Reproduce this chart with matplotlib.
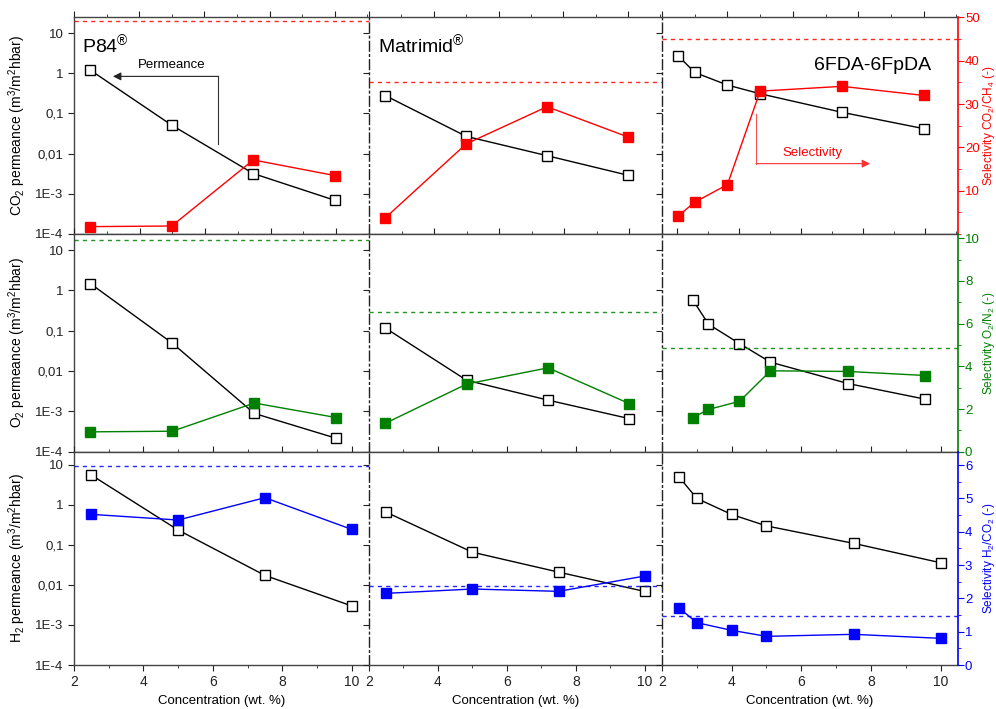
import numpy as np
import matplotlib.pyplot as plt
from matplotlib.ticker import MultipleLocator, FixedLocator, NullLocator

plt.rcParams['font.family'] = ['Liberation Sans', 'DejaVu Sans']
plt.rcParams['mathtext.fontset'] = 'custom'
plt.rcParams['mathtext.rm'] = 'Liberation Sans'
plt.rcParams['mathtext.it'] = 'Liberation Sans:italic'
plt.rcParams['mathtext.bf'] = 'Liberation Sans:bold'

# concentrations (wt. %)
conc_p84 = [2.5, 5, 7.5, 10]
conc_mat = [2.5, 5, 7.5, 10]
conc_6f = [2.5, 3, 4, 5, 7.5, 10]

# CO2 permeance and CO2/CH4 selectivity
co2_p84 = [1.2, 0.051, 0.0032, 0.00069]
co2_mat = [0.28, 0.027, 0.0089, 0.0029]
co2_6f = [2.7, 1.05, 0.51, 0.31, 0.107, 0.042]
sel_co2ch4_p84 = [1.7, 1.85, 17.1, 13.5]
sel_co2ch4_mat = [3.7, 20.8, 29.4, 22.4]
sel_co2ch4_6f = [4.2, 7.35, 11.4, 33.0, 34.1, 32.0]
ref_co2ch4 = [49.1, 35.0, 45.1]

# O2 permeance and O2/N2 selectivity
o2_p84 = [1.47, 0.049, 0.00089, 0.000215]
o2_mat = [0.117, 0.0059, 0.0019, 0.00066]
o2_6f = [0.57, 0.145, 0.048, 0.0166, 0.0049, 0.0020]
sel_o2n2_p84 = [0.93, 0.96, 2.28, 1.6]
sel_o2n2_mat = [1.33, 3.17, 3.93, 2.25]
sel_o2n2_6f = [1.6, 1.98, 2.36, 3.79, 3.76, 3.57]
ref_o2n2 = [9.92, 6.54, 4.84]

# H2 permeance and H2/CO2 selectivity
h2_p84 = [5.6, 0.237, 0.0174, 0.0030]
h2_mat = [0.66, 0.066, 0.021, 0.0069]
h2_6f = [4.9, 1.46, 0.58, 0.30, 0.11, 0.036]
sel_h2co2_p84 = [4.52, 4.35, 5.02, 4.07]
sel_h2co2_mat = [2.15, 2.28, 2.21, 2.67]
sel_h2co2_6f = [1.70, 1.27, 1.04, 0.86, 0.92, 0.80]
ref_h2co2 = [5.97, 2.37, 1.48]

membranes = ['P84$^{®}$', 'Matrimid$^{®}$', '6FDA-6FpDA']
perm_labels = ['CO$_2$ permeance (m$^3$/m$^2$hbar)',
               'O$_2$ permeance (m$^3$/m$^2$hbar)',
               'H$_2$ permeance (m$^3$/m$^2$hbar)']
sel_labels = ['Selectivity CO$_2$/CH$_4$ (-)',
              'Selectivity O$_2$/N$_2$ (-)',
              'Selectivity H$_2$/CO$_2$ (-)']
sel_colors = ['#ff0000', '#008000', '#0000ff']

concs = [conc_p84, conc_mat, conc_6f]
perms = [[co2_p84, co2_mat, co2_6f],
         [o2_p84, o2_mat, o2_6f],
         [h2_p84, h2_mat, h2_6f]]
sels = [[sel_co2ch4_p84, sel_co2ch4_mat, sel_co2ch4_6f],
        [sel_o2n2_p84, sel_o2n2_mat, sel_o2n2_6f],
        [sel_h2co2_p84, sel_h2co2_mat, sel_h2co2_6f]]
refs = [ref_co2ch4, ref_o2n2, ref_h2co2]

# layout in pixels (996 x 709)
W, H = 996, 709
col_x = [(74, 369), (369, 662), (662, 958)]
row_y = [(17.5, 234), (234, 451.7), (451.7, 665)]
xlims = [[(2, 11.05), (2, 11.05), (2, 11.05)],
         [(2, 11.0), (2, 11.0), (1.5, 11.05)],
         [(2, 10.5), (2, 10.5), (2, 10.5)]]
perm_top = [24.5, 25, 21.5]
sel_top = [50, 10.2, 6.4]
sel_ticks = [[10, 20, 30, 40, 50], [0, 2, 4, 6, 8, 10], [0, 1, 2, 3, 4, 5, 6]]
sel_minor = [5, 1, 0.5]

spine_c = '#444444'
fig = plt.figure(figsize=(W / 100, H / 100), dpi=100)

axes = {}
for r in range(3):
    for c in range(3):
        x0, x1 = col_x[c]
        y0, y1 = row_y[r]
        ax = fig.add_axes([x0 / W, 1 - y1 / H, (x1 - x0) / W, (y1 - y0) / H])
        ax.set_yscale('log')
        ax.set_xlim(*xlims[r][c])
        ax.set_ylim(1e-4, perm_top[r])
        for s in ax.spines.values():
            s.set_color(spine_c)
            s.set_linewidth(1)
        ax.spines['right'].set_visible(False)
        if c > 0:
            ax.spines['left'].set_linestyle((0, (7, 2.5, 1.2, 2.5)))
            ax.spines['left'].set_color('#222222')
        ax.yaxis.set_major_locator(FixedLocator([1e-4, 1e-3, 1e-2, 1e-1, 1, 10]))
        ax.set_yticklabels(['1E-4', '1E-3', '0,01', '0,1', '1', '10'])
        ax.yaxis.set_minor_locator(NullLocator())
        ax.tick_params(axis='y', direction='out', left=(c == 0), labelleft=(c == 0),
                       length=4, labelsize=9.5, colors='#222222')
        ax.xaxis.set_major_locator(MultipleLocator(2))
        ax.xaxis.set_minor_locator(MultipleLocator(1))
        ax.tick_params(axis='x', which='both', direction='out', top=True,
                       bottom=(r == 2), labelbottom=(r == 2), labelsize=10,
                       colors='#222222')
        ax.tick_params(axis='x', which='major', length=4)
        ax.tick_params(axis='x', which='minor', length=2.5)

        ax.plot(concs[c], perms[r][c], '-', color='k', lw=1, marker='s', ms=7,
                mfc='white', mec='k', mew=1, zorder=3)

        tw = ax.twinx()
        tw.set_ylim(0, sel_top[r])
        for s in tw.spines.values():
            s.set_visible(False)
        col = sel_colors[r]
        tw.plot(concs[c], sels[r][c], '-', color=col, lw=1, marker='s', ms=7,
                mfc=col, mec=col, zorder=3)
        tw.axhline(refs[r][c], color=col, lw=1, ls=(0, (3, 3)), alpha=0.85)
        tw.yaxis.set_major_locator(FixedLocator(sel_ticks[r]))
        tw.yaxis.set_minor_locator(MultipleLocator(sel_minor[r]))
        if c == 2:
            tw.spines['right'].set_visible(True)
            tw.spines['right'].set_color(col)
            tw.spines['right'].set_linewidth(1.2)
            tw.tick_params(axis='y', which='both', direction='out', colors=col,
                           labelsize=9.5, pad=1)
            tw.tick_params(axis='y', which='major', length=4)
            tw.tick_params(axis='y', which='minor', length=2.5)
            tw.set_ylabel(sel_labels[r], color=col, fontsize=8.5)
            tw.yaxis.set_label_coords(1.078, 0.5)
        else:
            tw.tick_params(axis='y', which='both', right=False, labelright=False)

        if c == 0:
            ax.set_ylabel(perm_labels[r], fontsize=10, labelpad=5)
        if r == 2:
            ax.set_xlabel('Concentration (wt. %)', fontsize=9.5, labelpad=4)
        axes[(r, c)] = ax

# panel titles
axes[(0, 0)].text(0.027, 0.872, membranes[0], transform=axes[(0, 0)].transAxes,
                  fontsize=14, va='center', ha='left')
axes[(0, 1)].text(0.031, 0.872, membranes[1], transform=axes[(0, 1)].transAxes,
                  fontsize=14, va='center', ha='left')
axes[(0, 2)].text(0.515, 0.78, membranes[2], transform=axes[(0, 2)].transAxes,
                  fontsize=14, va='center', ha='left')

# "Permeance" arrow
a = axes[(0, 0)]
a.plot([0.488, 0.488], [0.418, 0.728], color='#333333', lw=0.8,
       transform=a.transAxes)
a.annotate('', xy=(0.132, 0.728), xytext=(0.4895, 0.728), xycoords='axes fraction',
           arrowprops=dict(arrowstyle='-|>', color='#222222', lw=0.8,
                           mutation_scale=12, shrinkA=0, shrinkB=0))
a.text(0.332, 0.78, 'Permeance', transform=a.transAxes, fontsize=9.5,
       ha='center', va='center')

# "Selectivity" arrow
a = axes[(0, 2)]
a.plot([0.318, 0.318], [0.552, 0.325], color='#ff5050', lw=0.8,
       transform=a.transAxes)
a.annotate('', xy=(0.703, 0.325), xytext=(0.3175, 0.325), xycoords='axes fraction',
           arrowprops=dict(arrowstyle='-|>', color='#ff3030', lw=0.8,
                           mutation_scale=12, shrinkA=0, shrinkB=0))
a.text(0.509, 0.373, 'Selectivity', transform=a.transAxes, fontsize=9.5,
       ha='center', va='center', color='#ff0000')

fig.savefig('out.png', dpi=100)
